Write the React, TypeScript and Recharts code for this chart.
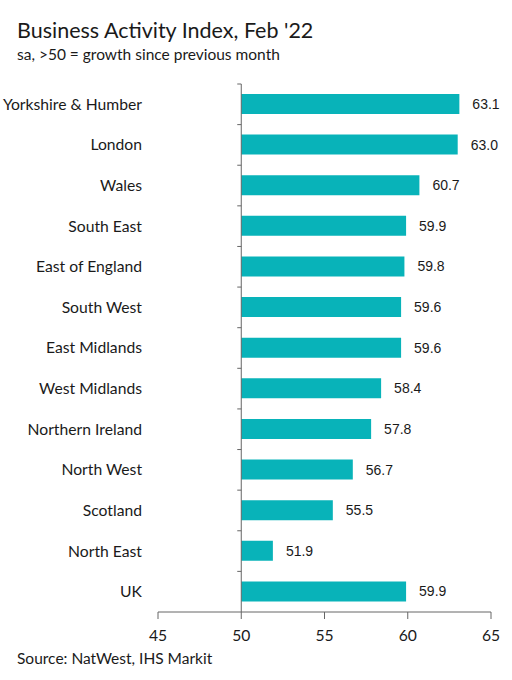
import { BarChart, Bar, XAxis, YAxis, ReferenceLine, LabelList } from "recharts";

const regions = [
  "Yorkshire & Humber",
  "London",
  "Wales",
  "South East",
  "East of England",
  "South West",
  "East Midlands",
  "West Midlands",
  "Northern Ireland",
  "North West",
  "Scotland",
  "North East",
  "UK",
];
const index = [63.1, 63.0, 60.7, 59.9, 59.8, 59.6, 59.6, 58.4, 57.8, 56.7, 55.5, 51.9, 59.9];
const xTicks = [45, 50, 55, 60, 65];
const baseline = 50;

const FONT = "Lato, 'Source Sans Pro', sans-serif";
const LABEL_FONT = "'Liberation Sans', Arial, sans-serif";
const W = 512;
const H = 680;
const M = { top: 84, right: 21, bottom: 38, left: 0 };
const Y_W = 158;
const X_H = 30;
const plotW = W - M.left - M.right - Y_W;
const plotH = H - M.top - M.bottom - X_H;
const band = plotH / regions.length;
const axisX = M.left + Y_W + ((baseline - xTicks[0]) / (xTicks[xTicks.length - 1] - xTicks[0])) * plotW;

const data = regions.map((r, i) => ({ region: r, value: index[i], range: [baseline, index[i]] }));

// eslint-disable-next-line @typescript-eslint/no-explicit-any
const RegionTick = ({ x, y, payload }: any) => (
  <g>
    <text x={x} y={y} dy="0.35em" textAnchor="end" fontSize={15.7} fill="#1a1a1a" fontFamily={FONT}>
      {payload.value}
    </text>
    <line x1={axisX - 4} x2={axisX} y1={y - band / 2} y2={y - band / 2} stroke="#666" strokeWidth={1} />
  </g>
);

export default function App() {
  return (
    <div style={{ position: "absolute", left: 0, top: 0, width: W, height: H, background: "#fff", fontFamily: FONT, color: "#1a1a1a" }}>
      <div style={{ position: "absolute", left: 17, top: 17, fontSize: 21.5, whiteSpace: "nowrap" }}>
        Business Activity Index, Feb '22
      </div>
      <div style={{ position: "absolute", left: 17, top: 45, fontSize: 15.5, whiteSpace: "nowrap" }}>
        sa, &gt;50 = growth since previous month
      </div>
      <BarChart width={W} height={H} data={data} layout="vertical" margin={M} barSize={20}>
        <XAxis
          type="number"
          domain={[45, 65]}
          ticks={xTicks}
          allowDataOverflow
          height={X_H}
          tickSize={7}
          tickMargin={11}
          stroke="#666"
          tick={{ fontSize: 15.7, fill: "#1a1a1a", fontFamily: FONT }}
        />
        <YAxis
          type="category"
          dataKey="region"
          width={Y_W}
          axisLine={false}
          tickLine={false}
          tickSize={6}
          tickMargin={10}
          interval={0}
          tick={<RegionTick />}
        />
        <ReferenceLine x={baseline} stroke="#666" strokeWidth={1} />
        <Bar dataKey="range" fill="#08b3b9" isAnimationActive={false}>
          <LabelList
            dataKey="value"
            position="right"
            offset={13}
            formatter={(v: number) => v.toFixed(1)}
            style={{ fontSize: 14, fill: "#1a1a1a", fontFamily: LABEL_FONT }}
          />
        </Bar>
      </BarChart>
      <div style={{ position: "absolute", left: 17, top: 649, fontSize: 15.5, whiteSpace: "nowrap" }}>
        Source: NatWest, IHS Markit
      </div>
    </div>
  );
}
